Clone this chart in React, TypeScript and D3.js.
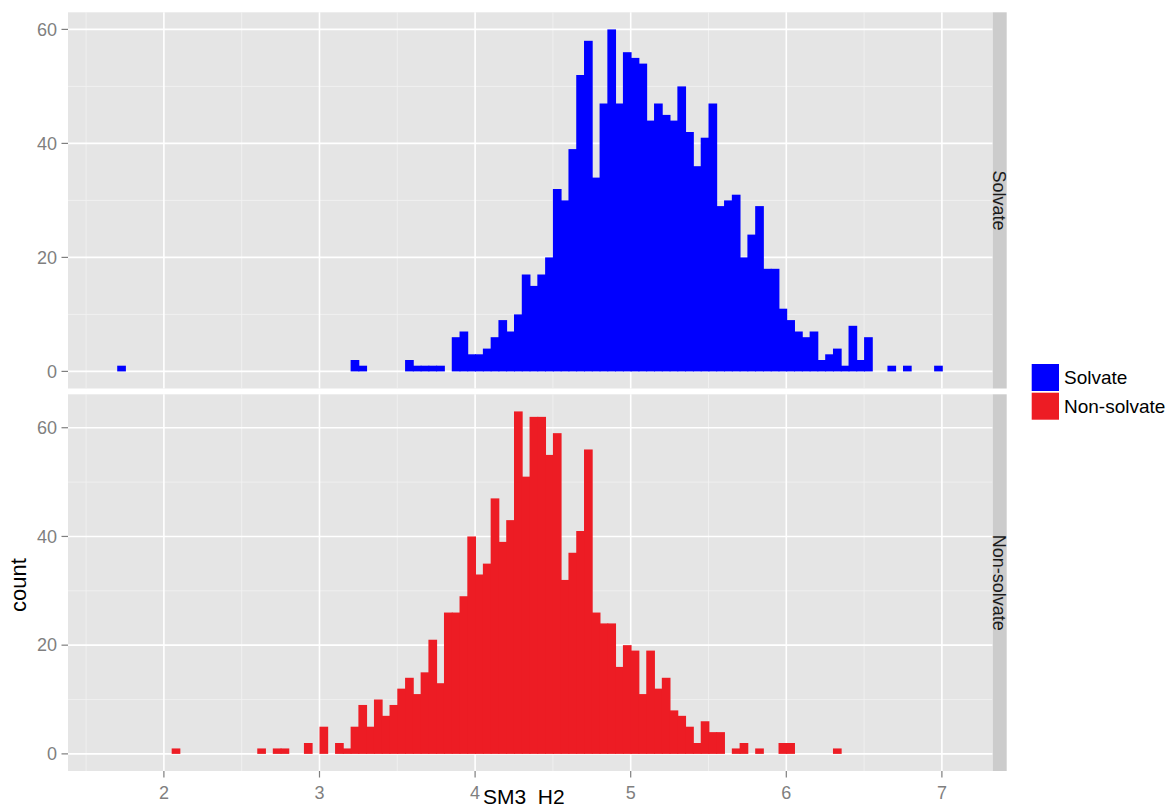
import React from "react";
import * as d3 from "d3";

const BIN_WIDTH = 0.05;

const solvateX0 = [1.70, 3.20, 3.25, 3.55, 3.60, 3.65, 3.70, 3.75, 3.85, 3.90, 3.95, 4.00, 4.05, 4.10, 4.15, 4.20, 4.25, 4.30, 4.35, 4.40, 4.45, 4.50, 4.55, 4.60, 4.65, 4.70, 4.75, 4.80, 4.85, 4.90, 4.95, 5.00, 5.05, 5.10, 5.15, 5.20, 5.25, 5.30, 5.35, 5.40, 5.45, 5.50, 5.55, 5.60, 5.65, 5.70, 5.75, 5.80, 5.85, 5.90, 5.95, 6.00, 6.05, 6.10, 6.15, 6.20, 6.25, 6.30, 6.35, 6.40, 6.45, 6.50, 6.65, 6.75, 6.95];
const solvateCount = [1, 2, 1, 2, 1, 1, 1, 1, 6, 7, 3, 3, 4, 6, 9, 7, 10, 17, 15, 17, 20, 32, 30, 39, 52, 58, 34, 47, 60, 47, 56, 55, 54, 44, 47, 45, 44, 50, 42, 36, 41, 47, 29, 30, 31, 20, 24, 29, 18, 18, 11, 9, 7, 6, 7, 2, 3, 4, 1, 8, 2, 6, 1, 1, 1];

const nonSolvateX0 = [2.05, 2.60, 2.70, 2.75, 2.90, 3.00, 3.10, 3.15, 3.20, 3.25, 3.30, 3.35, 3.40, 3.45, 3.50, 3.55, 3.60, 3.65, 3.70, 3.75, 3.80, 3.85, 3.90, 3.95, 4.00, 4.05, 4.10, 4.15, 4.20, 4.25, 4.30, 4.35, 4.40, 4.45, 4.50, 4.55, 4.60, 4.65, 4.70, 4.75, 4.80, 4.85, 4.90, 4.95, 5.00, 5.05, 5.10, 5.15, 5.20, 5.25, 5.30, 5.35, 5.40, 5.45, 5.50, 5.55, 5.65, 5.70, 5.80, 5.95, 6.00, 6.30];
const nonSolvateCount = [1, 1, 1, 1, 2, 5, 2, 1, 5, 9, 5, 10, 7, 9, 12, 14, 11, 15, 21, 13, 26, 26, 29, 40, 33, 35, 47, 39, 43, 63, 51, 62, 62, 55, 59, 32, 37, 41, 56, 26, 24, 24, 16, 20, 19, 11, 19, 12, 14, 8, 7, 5, 2, 6, 4, 4, 1, 2, 1, 2, 2, 1];

const panelNames = ["Solvate", "Non-solvate"];
const panelColors = ["#0000FF", "#ED1C24"];
const xTicks = [2, 3, 4, 5, 6, 7];
const xMinor = [1.5, 2.5, 3.5, 4.5, 5.5, 6.5];
const yTicks = [0, 20, 40, 60];
const yMinor = [10, 30, 50];
const xTitle = "SM3  H2";
const yTitle = "count";

const FONT = "'Liberation Sans', Arial, sans-serif";

export default function App() {
  const W = 1168, H = 809;
  const left = 68, right = 992.7;
  const stripW = 14;
  const panels = [
    { top: 12.3, bottom: 388.5, x0: solvateX0, counts: solvateCount },
    { top: 394.3, bottom: 771, x0: nonSolvateX0, counts: nonSolvateCount },
  ];
  const x = d3.scaleLinear().domain([1.3837, 7.3265]).range([left, right]);

  return (
    <svg width={W} height={H} style={{ position: "absolute", left: 0, top: 0, background: "#fff" }} fontFamily={FONT}>
      {panels.map((p, i) => {
        const maxC = d3.max(p.counts) as number;
        const y = d3.scaleLinear().domain([-maxC * 0.05, maxC * 1.05]).range([p.bottom, p.top]);
        return (
          <g key={i}>
            <rect x={left} y={p.top} width={right - left} height={p.bottom - p.top} fill="#E5E5E5" />
            {xMinor.map((v) => (
              <line key={"xm" + v} x1={x(v)} x2={x(v)} y1={p.top} y2={p.bottom} stroke="#F2F2F2" strokeWidth={0.8} />
            ))}
            {yMinor.map((v) => (
              <line key={"ym" + v} x1={left} x2={right} y1={y(v)} y2={y(v)} stroke="#F2F2F2" strokeWidth={0.8} />
            ))}
            {xTicks.map((v) => (
              <line key={"xM" + v} x1={x(v)} x2={x(v)} y1={p.top} y2={p.bottom} stroke="#FFFFFF" strokeWidth={1.6} />
            ))}
            {yTicks.map((v) => (
              <line key={"yM" + v} x1={left} x2={right} y1={y(v)} y2={y(v)} stroke="#FFFFFF" strokeWidth={1.6} />
            ))}
            {p.x0.map((v, j) => (
              <rect
                key={"b" + j}
                x={x(v)}
                y={y(p.counts[j])}
                width={x(v + BIN_WIDTH) - x(v) + 0.9}
                height={y(0) - y(p.counts[j])}
                fill={panelColors[i]}
              />
            ))}
            {yTicks.map((v) => (
              <g key={"yt" + v}>
                <line x1={61.5} x2={left} y1={y(v)} y2={y(v)} stroke="#7F7F7F" strokeWidth={1.2} />
                <text x={57} y={y(v)} dy="0.35em" textAnchor="end" fontSize={18} fill="#7F7F7F">{v}</text>
              </g>
            ))}
            <rect x={right} y={p.top} width={stripW} height={p.bottom - p.top} fill="#CCCCCC" />
            <text
              transform={`translate(${right + stripW / 2},${(p.top + p.bottom) / 2}) rotate(90)`}
              textAnchor="middle"
              dy="0.35em"
              fontSize={18}
              fill="#1A1A1A"
            >
              {panelNames[i]}
            </text>
          </g>
        );
      })}
      {xTicks.map((v) => (
        <g key={"xt" + v}>
          <line x1={x(v)} x2={x(v)} y1={771} y2={777.5} stroke="#7F7F7F" strokeWidth={1.2} />
          <text x={x(v)} y={799} textAnchor="middle" fontSize={18} fill="#7F7F7F">{v}</text>
        </g>
      ))}
      <text x={483} y={804} fontSize={21} fill="#000" style={{ whiteSpace: "pre" }} xmlSpace="preserve">{xTitle}</text>
      <text transform="translate(26,585) rotate(-90)" textAnchor="middle" fontSize={22} fill="#000">{yTitle}</text>
      {panelNames.map((n, i) => (
        <g key={"lg" + i}>
          <rect x={1031.7} y={364 + i * 28.7} width={27.3} height={27} fill={panelColors[i]} />
          <text x={1064} y={377.5 + i * 28.7} dy="0.35em" fontSize={19} fill="#000">{n}</text>
        </g>
      ))}
    </svg>
  );
}
